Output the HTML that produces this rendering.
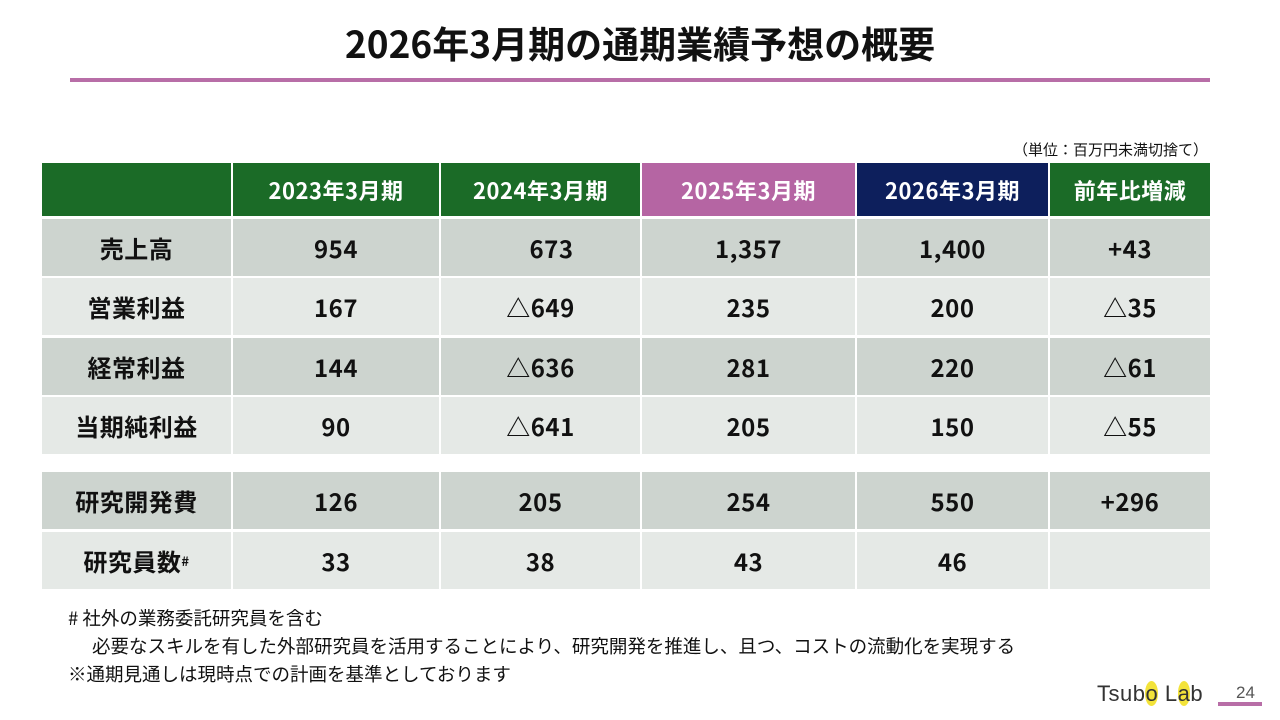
<!DOCTYPE html>
<html><head><meta charset="utf-8"><style>
body{margin:0;width:1280px;height:720px;background:#fff;position:relative;overflow:hidden;font-family:"Noto Sans CJK JP","Liberation Sans",sans-serif;}
.a{position:absolute}
.c{position:absolute;display:flex;align-items:center;justify-content:center;font-weight:bold;font-size:24px;line-height:1;color:#111;box-sizing:border-box;letter-spacing:0.5px}
.h{color:#fff;font-size:22px}
.d{background:#cdd4cf}.l{background:#e5e9e6}
.f{position:absolute;font-size:18.5px;line-height:1;color:#111;white-space:nowrap}
</style></head><body>
<div class="a" style="left:0;width:1280px;top:22px;text-align:center;font-size:37px;line-height:1.1;font-weight:bold;color:#111">2026年3月期の通期業績予想の概要</div>
<div class="a" style="left:70px;width:1140px;top:78px;height:4px;background:#b86ea7"></div>
<div class="a" style="right:72px;top:141px;font-size:15px;line-height:1.2;color:#111">（単位：百万円未満切捨て）</div>
<div id="t"></div>
<div class="f" style="left:68px;top:609px"># 社外の業務委託研究員を含む</div>
<div class="f" style="left:92px;top:637px">必要なスキルを有した外部研究員を活用することにより、研究開発を推進し、且つ、コストの流動化を実現する</div>
<div class="f" style="left:68px;top:665px">※通期見通しは現時点での計画を基準としております</div>
<div class="a" style="left:1097px;top:681px;font-family:'Liberation Sans',sans-serif;font-size:22px;color:#333;letter-spacing:0.5px">Tsub<span style="background:#f3e33a;border-radius:50%">o</span> L<span style="background:#f3e33a;border-radius:50%">a</span>b</div>
<div class="a" style="left:1236px;top:683px;font-family:'Liberation Sans',sans-serif;font-size:17px;color:#555">24</div>
<div class="a" style="left:1218px;top:702px;width:44px;height:4px;background:#b86ea7"></div>
<script>
const xs=[42,233,441,642,857,1050,1212];
const headers=["","2023年3月期","2024年3月期","2025年3月期","2026年3月期","前年比増減"];
const hcol=["#1b6b27","#1b6b27","#1b6b27","#b565a3","#0d1f5c","#1b6b27"];
const rows=[["売上高","954","673","1,357","1,400","+43"],["営業利益","167","△649","235","200","△35"],["経常利益","144","△636","281","220","△61"],["当期純利益","90","△641","205","150","△55"],["研究開発費","126","205","254","550","+296"],["研究員数<sup style='font-size:13px'>#</sup>","33","38","43","46",""]];
const ys=[[219,276],[278,335],[338,395],[397,454],[472,529],[532,589]];
const t=document.getElementById('t');
function cell(x0,x1,y0,y1,html,cls,bg){const d=document.createElement('div');d.className='c '+cls;d.style.cssText=`left:${x0}px;top:${y0}px;width:${x1-x0-2}px;height:${y1-y0}px;`+(bg?`background:${bg}`:'');d.innerHTML=html;t.appendChild(d);return d;}
headers.forEach((h,i)=>{const d=cell(xs[i],xs[i+1],163,216,h,'h',hcol[i]);

});
rows.forEach((r,ri)=>{r.forEach((v,ci)=>{const d=cell(xs[ci],xs[ci+1],ys[ri][0],ys[ri][1],v,(ri%2==0?'d':'l'),null);
if(ri==0&&ci==2)d.style.paddingLeft='22px';

});});
</script>
</body></html>
